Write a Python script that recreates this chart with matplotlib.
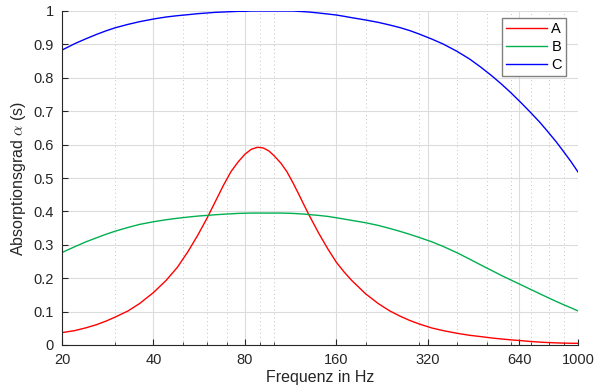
import matplotlib
matplotlib.use("Agg")
import matplotlib.pyplot as plt
from matplotlib.ticker import FixedLocator, LogLocator, NullFormatter, FuncFormatter

plt.rcParams['font.family'] = ['Liberation Sans', 'DejaVu Sans']
plt.rcParams['mathtext.fontset'] = 'cm'

# Data
freq = [20, 22, 24, 26, 28, 30, 33, 36, 40, 44, 48, 52, 56, 60, 64, 68, 72, 76,
        80, 84, 88, 92, 96, 100, 105, 110, 115, 120, 125, 130, 140, 150, 160,
        170, 180, 200, 220, 240, 260, 280, 300, 330, 360, 400, 440, 480, 520,
        560, 600, 650, 700, 750, 800, 850, 900, 950, 1000]

val_A = [0.037, 0.043, 0.0515, 0.061, 0.072, 0.084, 0.102, 0.124, 0.157, 0.193,
         0.233, 0.280, 0.329, 0.379, 0.430, 0.478, 0.519, 0.548,
         0.571, 0.586, 0.592, 0.590, 0.581, 0.566, 0.545, 0.519, 0.487, 0.454,
         0.421, 0.390, 0.335, 0.288, 0.248,
         0.218, 0.193, 0.153, 0.124, 0.102, 0.086, 0.073, 0.063, 0.051, 0.043,
         0.035, 0.029, 0.025, 0.021,
         0.018, 0.0155, 0.013, 0.0104, 0.0086, 0.0073, 0.0063, 0.0056, 0.0052, 0.005]

val_B = [0.277, 0.294, 0.309, 0.321, 0.332, 0.341, 0.352, 0.361, 0.369, 0.375,
         0.3795, 0.383, 0.386, 0.388, 0.390, 0.3915, 0.3928, 0.394,
         0.3945, 0.395, 0.395, 0.395, 0.395, 0.395, 0.395, 0.3945, 0.394, 0.393,
         0.392, 0.3905, 0.388, 0.385, 0.381,
         0.377, 0.373, 0.366, 0.358, 0.349, 0.340, 0.331, 0.322, 0.309, 0.295,
         0.276, 0.257, 0.239, 0.223,
         0.208, 0.195, 0.180, 0.166, 0.153, 0.141, 0.130, 0.120, 0.111, 0.102]

val_C = [0.883, 0.902, 0.917, 0.930, 0.941, 0.950, 0.960, 0.968, 0.976, 0.982,
         0.986, 0.989, 0.992, 0.994, 0.996, 0.997, 0.998, 0.999,
         0.999, 1.000, 1.000, 1.000, 1.000, 1.000, 1.000, 1.000, 1.000, 0.999,
         0.998, 0.997, 0.994, 0.991, 0.988,
         0.984, 0.980, 0.973, 0.966, 0.958, 0.950, 0.941, 0.931, 0.916, 0.901,
         0.879, 0.856, 0.831, 0.806,
         0.781, 0.756, 0.725, 0.695, 0.666, 0.636, 0.607, 0.577, 0.548, 0.518]

x_ticks = [20, 40, 80, 160, 320, 640, 1000]
y_ticks = [0, 0.1, 0.2, 0.3, 0.4, 0.5, 0.6, 0.7, 0.8, 0.9, 1]
labels = ['A', 'B', 'C']
colors = ['#ff0000', '#00b050', '#0000ff']

fig = plt.figure(figsize=(6.08, 3.89), dpi=100)
ax = fig.add_axes([62/608, 1-345/389, 516/608, 334/389])

for v, lab, c in zip([val_A, val_B, val_C], labels, colors):
    ax.plot(freq, v, color=c, lw=1.0, label=lab)

ax.set_xscale('log')
ax.set_xlim(20, 1000)
ax.set_ylim(0, 1)
ax.xaxis.set_major_locator(FixedLocator(x_ticks))
ax.xaxis.set_major_formatter(FuncFormatter(lambda v, p: f"{v:g}"))
ax.xaxis.set_minor_locator(LogLocator(base=10, subs=[1, 2, 3, 4, 5, 6, 7, 8, 9], numticks=20))
ax.xaxis.set_minor_formatter(NullFormatter())
ax.yaxis.set_major_locator(FixedLocator(y_ticks))
ax.yaxis.set_major_formatter(FuncFormatter(lambda v, p: f"{v:g}"))

ax.grid(True, which='major', color='#dcdcdc', lw=0.8, ls='-')
ax.grid(True, which='minor', axis='x', color='#c4c4c4', lw=0.7, ls=(0, (1, 3)))
ax.set_axisbelow(True)

for s in ['top', 'right']:
    ax.spines[s].set_visible(False)
for s in ['left', 'bottom']:
    ax.spines[s].set_color('#262626')
    ax.spines[s].set_linewidth(0.8)

ax.tick_params(which='both', direction='in', colors='#262626', labelsize=10.5)
ax.tick_params(which='major', length=4, width=0.8, pad=6)
ax.tick_params(which='minor', length=2.5, width=0.6)

ax.set_xlabel('Frequenz in Hz', fontsize=11.5, color='#262626', labelpad=2)
ax.set_ylabel(r'Absorptionsgrad $\alpha$ (s)', fontsize=11.5, color='#262626', labelpad=4)

leg = ax.legend(loc='upper right', bbox_to_anchor=(0.977, 0.979), fancybox=False,
                framealpha=1, edgecolor='#808080', fontsize=10.5, handlelength=2.8,
                borderpad=0.3, labelspacing=0.25, handletextpad=0.3, borderaxespad=0)
leg.get_frame().set_linewidth(1.0)

fig.savefig('out.png', dpi=100)
